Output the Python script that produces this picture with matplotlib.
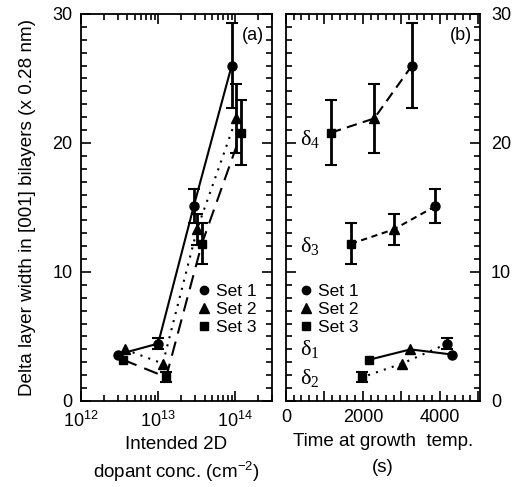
import matplotlib
matplotlib.use("Agg")
import matplotlib.pyplot as plt
from matplotlib.ticker import MultipleLocator, LogLocator, FixedLocator, NullFormatter
from matplotlib.lines import Line2D

plt.rcParams['font.family'] = ['Liberation Sans', 'DejaVu Sans']
plt.rcParams['mathtext.fontset'] = 'custom'
plt.rcParams['mathtext.rm'] = 'Liberation Sans'

# ---- data ----
sets = ["Set 1", "Set 2", "Set 3"]
deltas = ["δ1", "δ2", "δ3", "δ4"]
# widths for delta1..delta4 of each set
set1_width = [3.6, 4.45, 15.1, 26.0]
set2_width = [4.0, 2.9, 13.3, 21.9]
set3_width = [3.2, 1.85, 12.2, 20.8]
set1_err = [0.0, 0.4, 1.3, 3.3]
set2_err = [0.0, 0.0, 1.2, 2.7]
set3_err = [0.0, 0.4, 1.6, 2.5]
# panel (a): intended 2D dopant concentration (cm^-2)
set1_conc = [3.0e12, 1.0e13, 2.9e13, 9.0e13]
set2_conc = [3.7e12, 1.15e13, 3.2e13, 1.03e14]
set3_conc = [3.5e12, 1.27e13, 3.7e13, 1.2e14]
# panel (b): time at growth temperature (s)
set1_time = [4330, 4200, 3890, 3280]
set2_time = [3240, 3020, 2805, 2295]
set3_time = [2165, 1990, 1705, 1170]

widths = [set1_width, set2_width, set3_width]
errs = [set1_err, set2_err, set3_err]
concs = [set1_conc, set2_conc, set3_conc]
times = [set1_time, set2_time, set3_time]
markers = ['o', '^', 's']
msizes = [6.5, 7.5, 6]
set_styles = ['-', (0, (1, 3)), (0, (7, 4))]
delta_styles = ['-', (0, (1, 3)), (0, (3, 2.2)), (0, (5, 3))]
delta_labels = [r'$\mathregular{\delta_1}$', r'$\mathregular{\delta_2}$',
                r'$\mathregular{\delta_3}$', r'$\mathregular{\delta_4}$']
delta_label_y = [4.0, 1.8, 12.0, 20.3]

fig = plt.figure(figsize=(5.17, 4.87), dpi=100)
ax1 = fig.add_axes([0.1567, 0.1766, 0.5261 - 0.1567, 0.9713 - 0.1766])
ax2 = fig.add_axes([0.5532, 0.1766, 0.9284 - 0.5532, 0.9713 - 0.1766])

# panel (a)
for i in range(3):
    ax1.plot(concs[i], widths[i], linestyle=set_styles[i], color='black', lw=1.5, zorder=2)
    ax1.plot(concs[i], widths[i], linestyle='none', marker=markers[i], ms=msizes[i], color='black', zorder=3)
    for x, y, e in zip(concs[i], widths[i], errs[i]):
        if e > 0:
            ax1.errorbar([x], [y], yerr=[e], fmt='none', ecolor='black', elinewidth=2, capsize=4, capthick=1.5)

# panel (b)
for d in range(4):
    xs = [times[s][d] for s in range(3)]
    ys = [widths[s][d] for s in range(3)]
    ax2.plot(xs, ys, linestyle=delta_styles[d], color='black', lw=1.5, zorder=2)
    for s in range(3):
        ax2.plot([xs[s]], [ys[s]], linestyle='none', marker=markers[s], ms=msizes[s], color='black', zorder=3)
        e = errs[s][d]
        if e > 0:
            ax2.errorbar([xs[s]], [ys[s]], yerr=[e], fmt='none', ecolor='black', elinewidth=2, capsize=4, capthick=1.5)
    ax2.text(620, delta_label_y[d], delta_labels[d], family='Liberation Serif', fontsize=16,
             ha='center', va='center')

# axes formatting
ax1.set_xscale('log')
ax1.set_xlim(1e12, 3.0e14)
ax1.set_ylim(0, 30)
ax2.set_xlim(0, 5050)
ax2.set_ylim(0, 30)

for ax in (ax1, ax2):
    ax.yaxis.set_major_locator(MultipleLocator(10))
    ax.yaxis.set_minor_locator(MultipleLocator(1))
    ax.tick_params(which='both', direction='in', top=True, right=True, width=1.2, labelsize=13)
    ax.tick_params(which='major', length=7)
    ax.tick_params(which='minor', length=4)
    for sp in ax.spines.values():
        sp.set_linewidth(1.3)

ax1.xaxis.set_major_locator(FixedLocator([1e12, 1e13, 1e14]))
ax1.xaxis.set_minor_locator(LogLocator(base=10, subs=range(2, 10)))
ax1.xaxis.set_minor_formatter(NullFormatter())
ax1.set_xticklabels([r'$\mathregular{10^{12}}$', r'$\mathregular{10^{13}}$', r'$\mathregular{10^{14}}$'])
ax1.tick_params(axis='x', pad=7)
ax1.tick_params(axis='y', pad=6)

ax2.xaxis.set_major_locator(MultipleLocator(1000))
ax2.xaxis.set_minor_locator(MultipleLocator(200))
ax2.set_xticks([0, 1000, 2000, 3000, 4000, 5000])
ax2.set_xticklabels(['0', '', '2000', '', '4000', ''])
ax2.tick_params(axis='x', pad=6)
ax2.tick_params(axis='y', labelleft=False, labelright=True, pad=8)

ax1.set_ylabel('Delta layer width in [001] bilayers (x 0.28 nm)', fontsize=13.6, labelpad=12)
ax1.set_xlabel('Intended 2D\ndopant conc. (cm$^{\\mathregular{-2}}$)', fontsize=13.5, linespacing=1.3, labelpad=4)
ax2.set_xlabel('Time at growth  temp.\n(s)', fontsize=13.5, linespacing=1.65, labelpad=5)

ax1.text(0.96, 0.945, '(a)', transform=ax1.transAxes, ha='right', va='center', fontsize=13)
ax2.text(0.96, 0.945, '(b)', transform=ax2.transAxes, ha='right', va='center', fontsize=13)

handles = [Line2D([], [], linestyle='none', marker=markers[i], ms=msizes[i] - 0.5, color='black') for i in range(3)]
ax1.legend(handles, sets, loc='upper left', bbox_to_anchor=(0.56, 0.32), frameon=False,
           fontsize=12.5, handletextpad=0.2, borderaxespad=0, labelspacing=0.15, handlelength=1.0)
ax2.legend(handles, sets, loc='upper left', bbox_to_anchor=(0.02, 0.32), frameon=False,
           fontsize=12.5, handletextpad=0.2, borderaxespad=0, labelspacing=0.15, handlelength=1.0)

fig.savefig('out.png', dpi=100)
